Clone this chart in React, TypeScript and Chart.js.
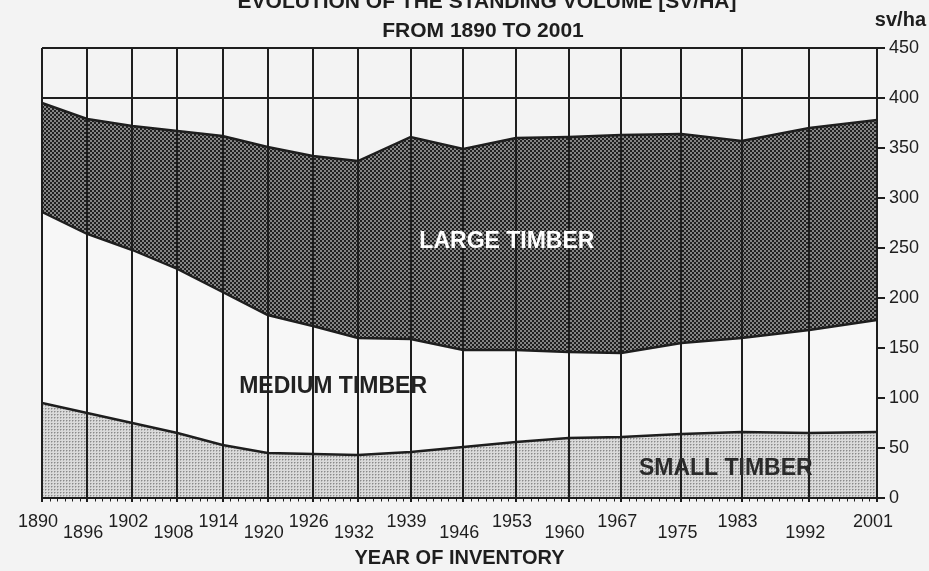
import React, { useEffect, useRef } from "react";
import { Chart, registerables } from "chart.js";

Chart.register(...registerables);

const years = [1890, 1896, 1902, 1908, 1914, 1920, 1926, 1932, 1939, 1946, 1953, 1960, 1967, 1975, 1983, 1992, 2001];
const smallTimber = [95, 85, 75, 65, 53, 45, 44, 43, 46, 51, 56, 60, 61, 64, 66, 65, 66];
const mediumTimber = [191, 179, 173, 164, 153, 138, 128, 117, 113, 97, 92, 86, 84, 91, 94, 103, 112];
const largeTimber = [109, 115, 124, 138, 156, 168, 170, 177, 202, 201, 212, 215, 218, 209, 197, 202, 200];
const yTicks = [0, 50, 100, 150, 200, 250, 300, 350, 400, 450];
const titleLines = ["EVOLUTION OF THE STANDING VOLUME [SV/HA]", "FROM 1890 TO 2001"];
const unitLabel = "sv/ha";
const xTitle = "YEAR OF INVENTORY";
const areaLabels = [
  { text: "LARGE TIMBER", x: 1951.8, y: 256, color: "#ffffff" },
  { text: "MEDIUM TIMBER", x: 1928.7, y: 111, color: "#222222" },
  { text: "SMALL TIMBER", x: 1980.9, y: 29, color: "#2a2a2a" },
];

const INK = "#1e1e1e";
const FONT = '"Liberation Sans", Arial, sans-serif';

function makePattern(size: number, draw: (c: CanvasRenderingContext2D) => void): CanvasPattern | string {
  const cv = document.createElement("canvas");
  cv.width = size;
  cv.height = size;
  const c = cv.getContext("2d");
  if (!c) return "#888";
  draw(c);
  const p = c.createPattern(cv, "repeat");
  return p || "#888";
}

export default function App() {
  const ref = useRef<HTMLCanvasElement | null>(null);

  useEffect(() => {
    const canvas = ref.current;
    if (!canvas) return;

    const darkPattern = makePattern(4, (c) => {
      c.fillStyle = "#858585";
      c.fillRect(0, 0, 4, 4);
      c.fillStyle = "#202020";
      c.fillRect(0, 0, 2, 2);
      c.fillRect(2, 2, 2, 2);
    });
    const lightPattern = makePattern(3, (c) => {
      c.fillStyle = "#dadada";
      c.fillRect(0, 0, 3, 3);
      c.fillStyle = "#8a8a8a";
      c.fillRect(0, 0, 1, 1);
      c.fillStyle = "#b4b4b4";
      c.fillRect(1, 0, 1, 1);
      c.fillRect(0, 1, 1, 1);
    });

    const toPts = (arr: number[]) => arr.map((v, i) => ({ x: years[i], y: v }));

    const decor = {
      id: "decor",
      beforeDraw(chart: any) {
        const c = chart.ctx;
        c.save();
        c.fillStyle = "#f3f3f3";
        c.fillRect(0, 0, chart.width, chart.height);
        c.restore();
      },
      afterDraw(chart: any) {
        const c = chart.ctx;
        const xs = chart.scales.x;
        const ys = chart.scales.y;
        c.save();
        // minor yearly ticks under the axis
        c.strokeStyle = INK;
        c.lineWidth = 1;
        const b = chart.chartArea.bottom;
        for (let yr = years[0]; yr <= years[years.length - 1]; yr++) {
          const px = Math.round(xs.getPixelForValue(yr)) + 0.5;
          c.beginPath();
          c.moveTo(px, b);
          c.lineTo(px, b + 3.5);
          c.stroke();
        }
        // area labels
        c.font = `bold 23px ${FONT}`;
        c.textAlign = "center";
        c.textBaseline = "middle";
        for (const l of areaLabels) {
          c.fillStyle = l.color;
          c.fillText(l.text, xs.getPixelForValue(l.x), ys.getPixelForValue(l.y));
        }
        // titles
        c.fillStyle = INK;
        c.font = `bold 21px ${FONT}`;
        c.textBaseline = "alphabetic";
        c.fillText(titleLines[0], 487, 8);
        c.fillText(titleLines[1], 483, 37);
        c.textAlign = "right";
        c.font = `bold 20px ${FONT}`;
        c.fillText(unitLabel, 926, 26);
        c.restore();
      },
    };

    const chart = new Chart(canvas, {
      type: "line",
      data: {
        datasets: [
          {
            label: "Small timber",
            data: toPts(smallTimber),
            fill: "origin",
            backgroundColor: lightPattern as any,
            borderColor: INK,
            borderWidth: 2.4,
            pointRadius: 0,
            tension: 0,
          },
          {
            label: "Medium timber",
            data: toPts(mediumTimber),
            fill: "-1",
            backgroundColor: "#f7f7f7",
            borderColor: INK,
            borderWidth: 2.4,
            pointRadius: 0,
            tension: 0,
          },
          {
            label: "Large timber",
            data: toPts(largeTimber),
            fill: "-1",
            backgroundColor: darkPattern as any,
            borderColor: INK,
            borderWidth: 2.4,
            pointRadius: 0,
            tension: 0,
          },
        ],
      },
      plugins: [decor],
      options: {
        responsive: false,
        animation: false,
        layout: { padding: { left: 42, top: 48, right: 0, bottom: 0 } },
        plugins: {
          legend: { display: false },
          title: { display: false },
          tooltip: { enabled: false },
        },
        scales: {
          x: {
            type: "linear",
            min: years[0],
            max: years[years.length - 1],
            afterBuildTicks: (scale: any) => {
              scale.ticks = years.map((v) => ({ value: v }));
            },
            afterFit: (scale: any) => {
              scale.height = 73;
              scale.paddingLeft = 0;
              scale.paddingRight = 0;
            },
            grid: {
              z: 1,
              color: INK,
              lineWidth: 2,
              drawTicks: true,
              tickLength: 4,
              tickColor: INK,
            },
            border: { display: true, color: INK, width: 2, z: 1 },
            ticks: {
              autoSkip: false,
              maxRotation: 0,
              minRotation: 0,
              labelOffset: -4,
              padding: 15,
              color: INK,
              font: { family: FONT, size: 18, lineHeight: "11px" },
              callback: (value: any, index: number) =>
                index % 2 === 1 ? ["", String(value)] : String(value),
            },
            title: {
              display: true,
              text: xTitle,
              color: INK,
              font: { family: FONT, size: 20, weight: "bold" },
              padding: { top: 0, bottom: 1 },
            },
          },
          y: {
            type: "linear",
            position: "right",
            stacked: true,
            min: yTicks[0],
            max: yTicks[yTicks.length - 1],
            afterBuildTicks: (scale: any) => {
              scale.ticks = yTicks.map((v) => ({ value: v }));
            },
            afterFit: (scale: any) => {
              scale.width = 52;
              scale.paddingTop = 0;
              scale.paddingBottom = 0;
            },
            grid: {
              z: 1,
              color: (ctx: any) =>
                ctx.tick && (ctx.tick.value === 400 || ctx.tick.value === 450) ? INK : "rgba(0,0,0,0)",
              lineWidth: 2,
              drawTicks: true,
              tickLength: 8,
              tickColor: INK,
            },
            border: { display: false },
            ticks: {
              padding: 4,
              color: INK,
              font: { family: FONT, size: 18 },
              callback: (value: any) => String(value),
            },
          },
        },
      },
    });

    return () => {
      chart.destroy();
    };
  }, []);

  return (
    <div style={{ position: "fixed", left: 0, top: 0, width: 929, height: 571, background: "#f3f3f3" }}>
      <canvas ref={ref} width={929} height={571} style={{ display: "block", width: 929, height: 571 }} />
    </div>
  );
}
